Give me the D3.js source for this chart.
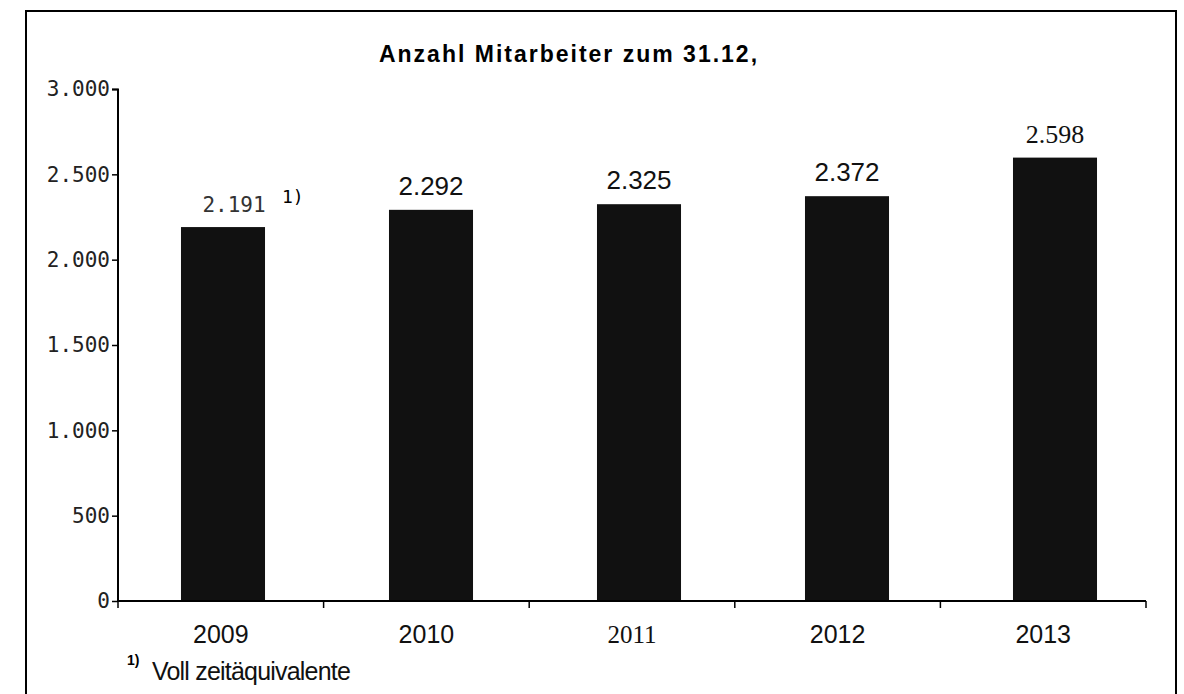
<!DOCTYPE html>
<html>
<head>
<meta charset="utf-8">
<script src="https://cdn.jsdelivr.net/npm/d3@7"></script>
<style>
  body { margin: 0; background: #fff; }
  svg { display: block; }
</style>
</head>
<body>
<div class="canvas"></div>
<script>
// data
const years = ['2009', '2010', '2011', '2012', '2013'];
const employees = [2191, 2292, 2325, 2372, 2598];
const valueLabels = ['2.191', '2.292', '2.325', '2.372', '2.598'];
const yTicks = [0, 500, 1000, 1500, 2000, 2500, 3000];
const yTickLabels = ['0', '500', '1.000', '1.500', '2.000', '2.500', '3.000'];
const title = 'Anzahl Mitarbeiter zum 31.12,';
const footnote = 'Voll zeitäquivalente';

// the scan mixes fonts, keep that look
const sans = 'Liberation Sans, Arial, sans-serif';
const serif = 'Liberation Serif, Times New Roman, serif';
const mono = 'DejaVu Sans Mono, monospace';
const valueFont = [mono, sans, sans, sans, serif];
const yearFont = [sans, sans, serif, sans, sans];

const width = 1184, height = 694;
const margin = { top: 89, left: 118, right: 38, bottom: 93 };
const graphWidth = width - margin.left - margin.right;
const graphHeight = height - margin.top - margin.bottom;

const svg = d3.select('.canvas')
    .append('svg')
    .attr('width', width)
    .attr('height', height);

// frame round the whole thing (open at the bottom)
svg.append('path')
    .attr('d', 'M26,694 L26,11 L1176,11 L1176,694')
    .attr('fill', 'none')
    .attr('stroke', '#000')
    .attr('stroke-width', 2);

const graph = svg.append('g')
    .attr('transform', `translate(${margin.left}, ${margin.top})`);

// category slots along the axis (ticks + year labels)
const xSlot = d3.scaleBand()
    .domain(years)
    .range([0, graphWidth]);

// bars sit a bit right of the slot centres in the scan
const x = d3.scaleBand()
    .domain(years)
    .range([1, graphWidth + 13])
    .paddingInner(0.596)
    .paddingOuter(0.298);

const y = d3.scaleLinear()
    .domain([0, 3000])
    .range([graphHeight, 0]);

// title
svg.append('text')
    .attr('x', 569)
    .attr('y', 62)
    .attr('text-anchor', 'middle')
    .attr('font-family', sans)
    .attr('font-weight', 'bold')
    .attr('font-size', 23)
    .attr('letter-spacing', 2)
    .text(title);

// y axis
const yAxis = d3.axisLeft(y)
    .tickValues(yTicks)
    .tickFormat((d, i) => yTickLabels[i])
    .tickSize(6)
    .tickPadding(2);

const yAxisGroup = graph.append('g').call(yAxis);
yAxisGroup.select('.domain').attr('stroke-width', 2).attr('d', `M-6,0.5H0V${graphHeight}`);
yAxisGroup.selectAll('line').attr('stroke-width', 1.5);
yAxisGroup.selectAll('text')
    .attr('font-family', mono)
    .attr('font-size', 21)
    .attr('fill', '#222');

// bars
graph.selectAll('rect.bar')
    .data(employees)
    .enter()
    .append('rect')
    .attr('class', 'bar')
    .attr('x', (d, i) => x(years[i]))
    .attr('y', d => y(d))
    .attr('width', x.bandwidth())
    .attr('height', d => graphHeight - y(d))
    .attr('fill', '#111');

// value labels above bars
graph.selectAll('text.value')
    .data(employees)
    .enter()
    .append('text')
    .attr('class', 'value')
    .attr('x', (d, i) => x(years[i]) + x.bandwidth() / 2 + (i === 0 ? 11 : 0))
    .attr('y', d => y(d) - 15)
    .attr('text-anchor', 'middle')
    .attr('font-family', (d, i) => valueFont[i])
    .attr('font-size', (d, i) => i === 0 ? 21 : 26)
    .attr('fill', (d, i) => i === 0 ? '#333' : '#111')
    .text((d, i) => valueLabels[i]);

// footnote marker next to first value
graph.append('text')
    .attr('x', x(years[0]) + x.bandwidth() / 2 + 59)
    .attr('y', y(employees[0]) - 24)
    .attr('font-family', mono)
    .attr('font-size', 18)
    .text('1)');

// x axis: baseline + ticks at slot borders
const xAxisGroup = graph.append('g')
    .attr('transform', `translate(0, ${graphHeight})`);

xAxisGroup.append('line')
    .attr('x1', 0).attr('x2', graphWidth)
    .attr('stroke', '#000').attr('stroke-width', 2);

const borders = years.map(d => xSlot(d)).concat([graphWidth]);
xAxisGroup.selectAll('line.tick')
    .data(borders)
    .enter()
    .append('line')
    .attr('class', 'tick')
    .attr('x1', d => d).attr('x2', d => d)
    .attr('y1', 0).attr('y2', 7)
    .attr('stroke', '#000')
    .attr('stroke-width', 1.5);

xAxisGroup.selectAll('text')
    .data(years)
    .enter()
    .append('text')
    .attr('x', d => xSlot(d) + xSlot.bandwidth() / 2)
    .attr('y', 42)
    .attr('text-anchor', 'middle')
    .attr('font-family', (d, i) => yearFont[i])
    .attr('font-size', 25)
    .attr('fill', '#111')
    .text(d => d);

// footnote
svg.append('text')
    .attr('x', 127)
    .attr('y', 665)
    .attr('font-family', sans)
    .attr('font-weight', 'bold')
    .attr('font-size', 14)
    .text('1)');
svg.append('text')
    .attr('x', 152)
    .attr('y', 680)
    .attr('font-family', sans)
    .attr('font-size', 25)
    .attr('letter-spacing', -0.8)
    .attr('fill', '#111')
    .text(footnote);
</script>
</body>
</html>
